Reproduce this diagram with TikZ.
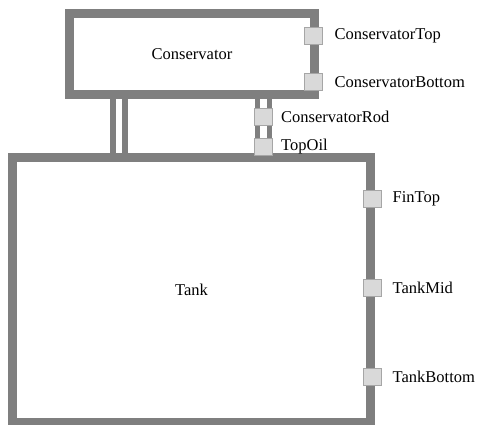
\documentclass[tikz,border=0pt]{standalone}
\usepackage{fontspec}
\setmainfont{Liberation Serif}
\begin{document}
\begin{tikzpicture}[x=1pt,y=-1pt,
  every node/.style={font=\fontsize{16.5}{20}\selectfont},
  vessel/.style={draw=wallgray,line width=9pt,fill=white,inner sep=0pt,outer sep=0pt,rectangle},
  portbox/.style={draw=portedge,fill=portfill,line width=1pt,minimum width=18pt,minimum height=17pt,inner sep=0pt,rectangle},
  plabel/.style={anchor=west,inner sep=0pt},
  pipe/.style={draw=wallgray,line width=6pt},
  rod/.style={draw=wallgray,line width=5pt}]
\definecolor{wallgray}{HTML}{7F7F7F}
\definecolor{portfill}{HTML}{D9D9D9}
\definecolor{portedge}{HTML}{A6A6A6}
\useasboundingbox (0,0) rectangle (481,424);
\clip (0,0) rectangle (481,424);
% pipe coordinates
\coordinate (legA) at (113,0);
\coordinate (legB) at (125,0);
\coordinate (rodA) at (257.5,0);
\coordinate (rodB) at (269.5,0);
% vessels (centres of the strokes)
\node[vessel,minimum width=245pt,minimum height=81pt] (cons) at (192,54) {};
\node[vessel,minimum width=358pt,minimum height=265pt] (tank) at (191.5,290) {};
% pipes between vessels
\draw[pipe] (cons.south -| legA) -- (tank.north -| legA);
\draw[pipe] (cons.south -| legB) -- (tank.north -| legB);
\draw[rod] (cons.south -| rodA) -- (tank.north -| rodA);
\draw[rod] (cons.south -| rodB) -- (tank.north -| rodB);
% redraw vessels over pipe ends
\draw[wallgray,line width=9pt] (cons.south west) rectangle (cons.north east);
\draw[wallgray,line width=9pt] (tank.south west) rectangle (tank.north east);
\node at (cons.center) {Conservator};
\node at (tank.center) {Tank};
% ports
\node[portbox] (pCT) at (313,35.5) {};
\node[portbox] (pCB) at (313,82) {};
\node[portbox] (pCR) at (263.5,116.5) {};
\node[portbox] (pTO) at (263.5,146.5) {};
\node[portbox] (pFT) at (372,198.5) {};
\node[portbox] (pTM) at (372,288) {};
\node[portbox] (pTB) at (372,376.5) {};
% labels
\node[plabel,xshift=12pt] (lCT) at (pCT.east) {ConservatorTop};
\node[plabel,xshift=12pt] (lCB) at (pCB.east) {ConservatorBottom};
\node[plabel,xshift=8pt] (lCR) at (pCR.east) {ConservatorRod};
\node[plabel,xshift=8pt] (lTO) at (pTO.east) {TopOil};
\node[plabel,xshift=11pt] (lFT) at (pFT.east) {FinTop};
\node[plabel,xshift=11pt] (lTM) at (pTM.east) {TankMid};
\node[plabel,xshift=11pt] (lTB) at (pTB.east) {TankBottom};
\end{tikzpicture}
\end{document}
